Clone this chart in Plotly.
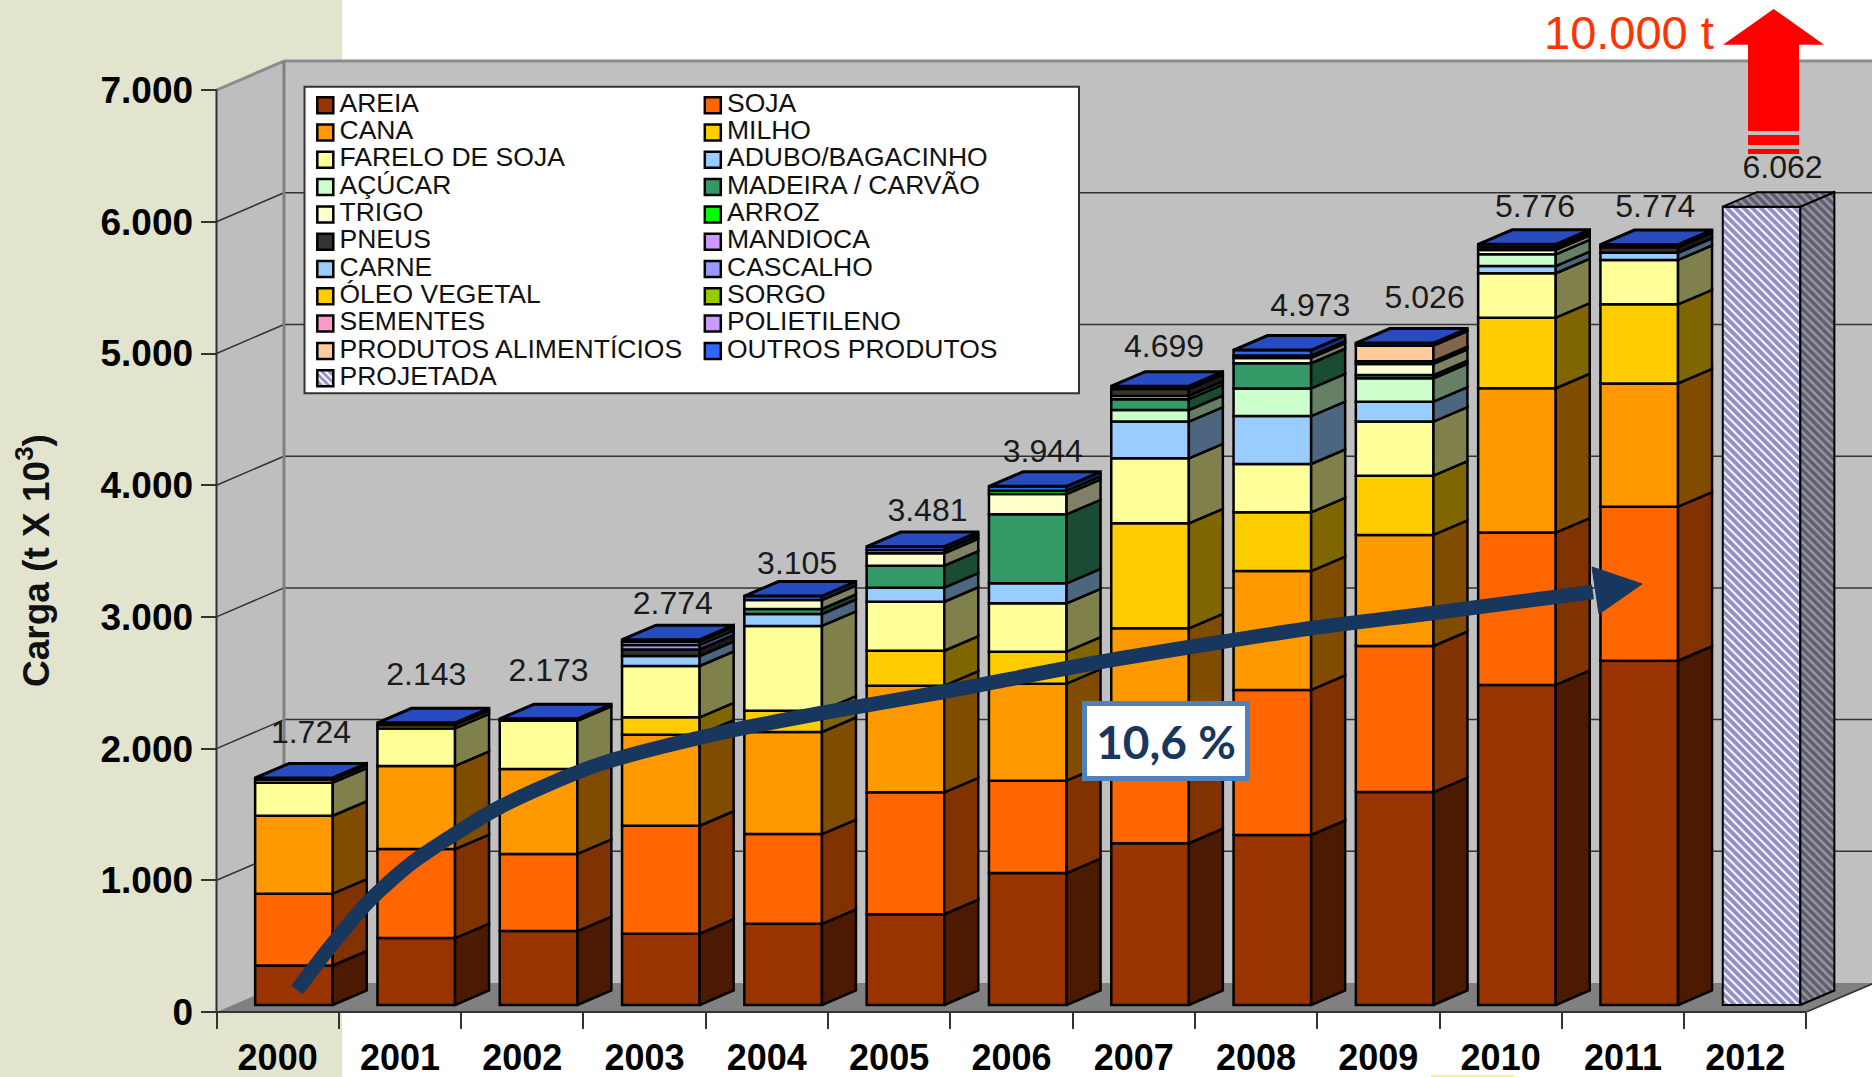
import plotly.graph_objects as go

W, H = 1872, 1077

# ---------- data ----------
years = ["2000", "2001", "2002", "2003", "2004", "2005", "2006",
         "2007", "2008", "2009", "2010", "2011", "2012"]
totals = [1724, 2143, 2173, 2774, 3105, 3481, 3944, 4699, 4973, 5026, 5776, 5774, 6062]

areia       = [300, 508, 561, 541, 616, 689, 1002, 1228, 1291, 1617, 2430, 2614, 0]
soja        = [545, 676, 586, 820, 682, 926, 701, 772, 1101, 1109, 1157, 1170, 0]
cana        = [592, 631, 645, 691, 775, 810, 737, 860, 903, 843, 1096, 936, 0]
milho       = [0, 0, 0, 132, 162, 265, 243, 797, 446, 450, 536, 600, 0]
farelo      = [251, 285, 366, 390, 643, 372, 367, 494, 367, 411, 337, 337, 0]
adubo       = [0, 0, 0, 76, 91, 107, 152, 279, 364, 151, 55, 55, 0]
acucar      = [0, 0, 0, 0, 0, 0, 0, 88, 210, 178, 89, 0, 0]
madeira     = [0, 0, 0, 0, 38, 167, 524, 82, 191, 24, 0, 0, 0]
trigo       = [0, 0, 0, 0, 68, 94, 154, 25, 40, 85, 33, 0, 0]
arroz       = [0, 0, 0, 0, 0, 0, 25, 0, 18, 0, 0, 0, 0]
pneus       = [0, 0, 0, 50, 0, 0, 0, 52, 0, 20, 20, 42, 0]
mandioca    = [0] * 13
carne       = [0] * 13
cascalho    = [0, 0, 0, 34, 0, 0, 0, 0, 0, 0, 0, 0, 0]
oleo        = [24, 25, 0, 0, 0, 0, 0, 0, 0, 0, 0, 0, 0]
sorgo       = [0, 0, 0, 25, 0, 0, 0, 0, 0, 0, 0, 0, 0]
sementes    = [0] * 13
polietileno = [0, 0, 0, 0, 0, 25, 0, 0, 0, 0, 0, 0, 0]
produtos    = [0, 0, 0, 0, 0, 0, 0, 0, 0, 118, 0, 0, 0]
outros      = [12, 18, 15, 15, 30, 26, 33, 22, 42, 20, 23, 20, 0]
projetada   = [0, 0, 0, 0, 0, 0, 0, 0, 0, 0, 0, 0, 6062]

stack_names = ["AREIA", "SOJA", "CANA", "MILHO", "FARELO DE SOJA", "ADUBO/BAGACINHO", "AÇÚCAR",
               "MADEIRA / CARVÃO", "TRIGO", "ARROZ", "PNEUS", "MANDIOCA", "CARNE", "CASCALHO",
               "ÓLEO VEGETAL", "SORGO", "SEMENTES", "POLIETILENO", "PRODUTOS ALIMENTÍCIOS",
               "OUTROS PRODUTOS"]
stack_values = [areia, soja, cana, milho, farelo, adubo, acucar, madeira, trigo, arroz, pneus,
                mandioca, carne, cascalho, oleo, sorgo, sementes, polietileno, produtos, outros]
stack_colors = ["#993300", "#FF6600", "#FF9900", "#FFCC00", "#FFFF99", "#99CCFF", "#CCFFCC",
                "#339966", "#FFFFCC", "#00FF00", "#333333", "#CC99FF", "#99CCFF", "#9999FF",
                "#FFCC00", "#99CC00", "#FF99CC", "#CC99FF", "#FFCC99", "#3366FF"]

legend_left = ["AREIA", "CANA", "FARELO DE SOJA", "AÇÚCAR", "TRIGO", "PNEUS", "CARNE",
               "ÓLEO VEGETAL", "SEMENTES", "PRODUTOS ALIMENTÍCIOS", "PROJETADA"]
legend_right = ["SOJA", "MILHO", "ADUBO/BAGACINHO", "MADEIRA / CARVÃO", "ARROZ", "MANDIOCA",
                "CASCALHO", "SORGO", "POLIETILENO", "OUTROS PRODUTOS"]

y_ticks = [0, 1000, 2000, 3000, 4000, 5000, 6000, 7000]
y_labels = ["0", "1.000", "2.000", "3.000", "4.000", "5.000", "6.000", "7.000"]

# ---------- geometry of the pseudo-3D frame ----------
X0, Y0 = 216.5, 1012.0     # pixel of category edge 0 / value 0 on the front plane
CAT = 122.3                # pixels per category
VAL = 0.1317               # pixels per unit of value


def xd(px):
    return (px - X0) / CAT


def yd(py):
    return (Y0 - py) / VAL


WALL_DX, WALL_DY = 67.5 / CAT, 29.0 / VAL     # full chart depth
BAR_DX, BAR_DY = 34.0 / CAT, 14.5 / VAL       # bar depth
BAR_W = 77.6 / CAT
BAR_SHIFT = 0.5 + 16.3 / CAT                  # front-face centre inside a category
LIFT = 7.0 / VAL                              # front face sits above the floor edge
XMAX = xd(W)
N = len(years)


def darker(hex_color, k):
    r, g, b = (int(hex_color[i:i + 2], 16) for i in (1, 3, 5))
    return "#%02X%02X%02X" % (round(r * k), round(g * k), round(b * k))


def poly(points):
    return "M " + " L ".join(f"{x},{y}" for x, y in points) + " Z"


BG_WALL = "#BEBEBE"
GRID = "#333333"
shapes = [
    dict(type="rect", xref="paper", yref="paper", x0=0, x1=342 / W, y0=0, y1=1,
         fillcolor="#E2E4CE", line_width=0, layer="below"),
    dict(type="rect", xref="paper", yref="paper", x0=1431 / W, x1=1514 / W, y0=0, y1=2 / H,
         fillcolor="#F3EFA0", line_width=0, layer="below"),
    # side wall, back wall, floor
    dict(type="path", layer="below", fillcolor=BG_WALL, line=dict(width=0),
         path=poly([(0, 0), (WALL_DX, WALL_DY), (WALL_DX, 7000 + WALL_DY), (0, 7000)])),
    dict(type="rect", layer="below", fillcolor="#C0C0C0", line_width=0,
         x0=WALL_DX, x1=XMAX, y0=WALL_DY, y1=7000 + WALL_DY),
    dict(type="path", layer="below", fillcolor="#808080", line=dict(width=0),
         path=poly([(0, 0), (WALL_DX, WALL_DY), (XMAX, WALL_DY), (XMAX, 0.93 * WALL_DY), (N, 0)])),
]
for v in y_ticks[1:]:
    is_top = v == 7000
    col = "#8C8C8C" if is_top else GRID
    wid = 3 if is_top else 1.5
    shapes.append(dict(type="line", layer="below", line=dict(color=col, width=wid),
                       x0=0, y0=v, x1=WALL_DX, y1=v + WALL_DY))
    shapes.append(dict(type="line", layer="below", line=dict(color=col, width=wid),
                       x0=WALL_DX, y0=v + WALL_DY, x1=XMAX, y1=v + WALL_DY))
shapes += [
    dict(type="line", layer="below", line=dict(color="#808080", width=3),
         x0=WALL_DX, x1=WALL_DX, y0=WALL_DY, y1=7000 + WALL_DY),
    dict(type="line", layer="below", line=dict(color=GRID, width=2), x0=0, x1=0, y0=0, y1=7000),
    dict(type="line", layer="below", line=dict(color=GRID, width=2), x0=0, x1=N, y0=0, y1=0),
    dict(type="line", layer="below", line=dict(color="#333333", width=1.5),
         x0=N, x1=N + WALL_DX, y0=0, y1=WALL_DY),
    # legend box
    dict(type="rect", layer="below", fillcolor="white", line=dict(color="#333333", width=2),
         x0=xd(304.5), x1=xd(1079), y0=yd(393.3), y1=yd(86.7)),
]

fig = go.Figure()

# ---------- stacked bars: front faces ----------
xpos = [i + BAR_SHIFT for i in range(N)]
cum = [0] * N
edge = dict(color="black", width=2.5)
for name, vals, col in zip(stack_names, stack_values, stack_colors):
    ys = [v if v else None for v in vals]
    bases = [c + LIFT for c in cum]
    fig.add_trace(go.Bar(x=xpos, y=ys, base=bases, width=BAR_W, name=name, showlegend=False,
                         marker=dict(color=col, line=edge)))
    sx, sy = [], []
    for i, v in enumerate(vals):
        if v:
            r = xpos[i] + BAR_W / 2
            b, t = bases[i], bases[i] + v
            sx += [r, r + BAR_DX, r + BAR_DX, r, r, None]
            sy += [b, b + BAR_DY, t + BAR_DY, t, b, None]
    if sx:
        fig.add_trace(go.Scatter(x=sx, y=sy, mode="lines", fill="toself", showlegend=False,
                                 fillcolor=darker(col, 0.5), line=dict(color="black", width=2.5),
                                 hoverinfo="skip"))
    cum = [c + v for c, v in zip(cum, vals)]

# top caps of the stacked bars
tx, ty = [], []
for i in range(N):
    if cum[i]:
        l, r, t = xpos[i] - BAR_W / 2, xpos[i] + BAR_W / 2, cum[i] + LIFT
        tx += [l, r, r + BAR_DX, l + BAR_DX, l, None]
        ty += [t, t, t + BAR_DY, t + BAR_DY, t, None]
fig.add_trace(go.Scatter(x=tx, y=ty, mode="lines", fill="toself", fillcolor=darker("#3366FF", 0.75),
                         line=dict(color="black", width=3), showlegend=False, hoverinfo="skip"))

# ---------- projected bar ----------
STRIPE = dict(shape="\\", fgcolor="#1F1F8C", bgcolor="white", size=6, solidity=0.68)
STRIPE_D = dict(shape="\\", fgcolor="#20204F", bgcolor="#9A9A9A", size=6, solidity=0.6)
fig.add_trace(go.Bar(x=xpos, y=[v if v else None for v in projetada], base=[LIFT] * N, width=BAR_W,
                     name="PROJETADA", showlegend=False,
                     marker=dict(color="white", pattern=STRIPE, line=dict(color="black", width=2))))
px_, py_ = [], []
qx, qy = [], []
for i, v in enumerate(projetada):
    if v:
        l, r, b, t = xpos[i] - BAR_W / 2, xpos[i] + BAR_W / 2, LIFT, LIFT + v
        px_ += [r, r + BAR_DX, r + BAR_DX, r, r]
        py_ += [b, b + BAR_DY, t + BAR_DY, t, b]
        qx += [l, r, r + BAR_DX, l + BAR_DX, l]
        qy += [t, t, t + BAR_DY, t + BAR_DY, t]
for ax, ay in ((px_, py_), (qx, qy)):
    fig.add_trace(go.Scatter(x=ax, y=ay, mode="lines", fill="toself", fillpattern=STRIPE_D,
                             line=dict(color="black", width=2), showlegend=False, hoverinfo="skip"))

# ---------- value labels (hand placed in the source chart) ----------
label_dx = [17, 10, 10, 12, 14, 22, 15, 14, 38, 30, 18, 16, 21]
label_dy = [28, 31, 31, 19, 16, 19, 17, 23, 28, 29, 21, 21, 22]
fig.add_trace(go.Scatter(
    x=[xpos[i] + label_dx[i] / CAT for i in range(N)],
    y=[totals[i] + LIFT + BAR_DY + label_dy[i] / VAL for i in range(N)],
    mode="text", text=[f"{t:,}".replace(",", ".") for t in totals],
    textposition="middle center", textfont=dict(family="Liberation Sans", size=32, color="#1A1A1A"),
    showlegend=False, hoverinfo="skip"))

# ---------- growth arrow ----------
curve_px = [(297, 990), (330, 947), (370, 900), (413, 862), (500, 807), (597, 765),
            (720, 733), (822, 713), (943, 692), (1100, 662), (1312, 628), (1433, 613), (1593, 592)]
NAVY = "#17375E"
fig.add_trace(go.Scatter(x=[xd(p[0]) for p in curve_px], y=[yd(p[1]) for p in curve_px], mode="lines",
                         line=dict(color=NAVY, width=14.5, shape="spline", smoothing=0.7),
                         showlegend=False, hoverinfo="skip"))
head_px = [(1592, 567), (1642, 584), (1599, 614), (1592, 567)]
fig.add_trace(go.Scatter(x=[xd(p[0]) for p in head_px], y=[yd(p[1]) for p in head_px], mode="lines",
                         fill="toself", fillcolor=NAVY, line=dict(color=NAVY, width=1),
                         showlegend=False, hoverinfo="skip"))

# ---------- red arrow ----------
RED = "#FF0000"
red_px = [[(1773.6, 9), (1824, 44.7), (1799, 44.7), (1799, 131), (1748, 131), (1748, 44.7), (1723, 44.7)],
          [(1748, 135), (1799, 135), (1799, 145), (1748, 145)],
          [(1748, 149), (1799, 149), (1799, 154), (1748, 154)]]
for part in red_px:
    closed = part + [part[0]]
    fig.add_trace(go.Scatter(x=[xd(p[0]) for p in closed], y=[yd(p[1]) for p in closed], mode="lines",
                             fill="toself", fillcolor=RED, line=dict(width=0, color=RED),
                             showlegend=False, hoverinfo="skip"))

# ---------- legend ----------
ROW0, ROW = 105.2, 27.3
COL_SWATCH = {0: 325.3, 1: 712.8}
COL_TEXT = {0: 339.5, 1: 727.0}
col_of = dict(zip(stack_names, stack_colors))
LEG_FONT = dict(family="Liberation Sans", size=26.5, color="#111111")
for c, column in enumerate((legend_left, legend_right)):
    for r, name in enumerate(column):
        xv, yv = xd(COL_SWATCH[c]), yd(ROW0 + r * ROW)
        xt = xd(COL_TEXT[c])
        if name == "PROJETADA":
            half = 8.0
            fig.add_trace(go.Bar(x=[xv], y=[2 * half / VAL], base=[yv - half / VAL], width=2 * half / CAT,
                                 showlegend=False, hoverinfo="skip",
                                 marker=dict(color="white", line=dict(color="black", width=2.5),
                                             pattern=dict(shape="\\", fgcolor="#1F1F8C", bgcolor="white",
                                                          size=5, solidity=0.55))))
        else:
            fig.add_trace(go.Scatter(x=[xv], y=[yv], mode="markers", showlegend=False,
                                     marker=dict(symbol="square", size=16, color=col_of[name],
                                                 line=dict(color="black", width=2.5)),
                                     hoverinfo="skip"))
        fig.add_trace(go.Scatter(x=[xt], y=[yv], mode="text", text=[name], showlegend=False,
                                 textposition="middle right", textfont=LEG_FONT, hoverinfo="skip"))

# ---------- layout ----------
annotations = [
    dict(text="<b>Carga (t X 10<sup>3</sup>)</b>", xref="paper", yref="paper", x=33 / W, y=1 - 561 / H,
         xanchor="center", yanchor="middle",
         textangle=-90, showarrow=False, font=dict(family="Liberation Sans", size=37, color="#111111")),
    dict(text="10.000 t", xref="paper", yref="paper", x=1629 / W, y=1 - 33 / H, showarrow=False,
         xanchor="center", yanchor="middle",
         font=dict(family="Liberation Sans", size=47, color="#FF3300")),
    dict(text="<b>10,6 %</b>", xref="paper", yref="paper", x=1166 / W, y=1 - 741 / H, showarrow=False,
         xanchor="center", yanchor="middle",
         font=dict(family="Lato", size=46, color=NAVY), bgcolor="white", bordercolor="#4F81BD",
         borderwidth=5, width=158, height=70, borderpad=0),
]

fig.update_layout(
    width=W, height=H, autosize=False,
    margin=dict(l=0, r=0, t=0, b=0),
    paper_bgcolor="white", plot_bgcolor="rgba(0,0,0,0)",
    barmode="overlay", showlegend=False, hovermode=False,
    shapes=shapes, annotations=annotations,
    font=dict(family="Liberation Sans", color="#000000"),
    xaxis=dict(range=[xd(0), xd(W)], domain=[0, 1], anchor="free", position=(H - Y0) / H, automargin=False,
               tickmode="array", tickvals=[i + 0.5 for i in range(N)], ticktext=years,
               ticks="", ticklabelstandoff=21, showgrid=False, zeroline=False, showline=False,
               tickfont=dict(family="Liberation Sans", size=36, color="#000000", weight="bold"),
               minor=dict(tickmode="array", tickvals=list(range(N + 1)), ticks="outside", ticklen=16,
                          tickwidth=1.5, tickcolor="#333333", showgrid=False)),
    yaxis=dict(range=[yd(H), yd(0)], domain=[0, 1], anchor="free", position=X0 / W, automargin=False,
               tickmode="array", tickvals=y_ticks, ticktext=y_labels, ticks="outside", ticklen=16,
               tickwidth=1.5, tickcolor="#333333", showgrid=False, zeroline=False, showline=False,
               tickfont=dict(family="Liberation Sans", size=37, color="#000000", weight="bold")),
)

fig.write_html("out.html", config={"displayModeBar": False},
               post_script="document.body.style.margin='0';document.documentElement.style.overflow='hidden';")
